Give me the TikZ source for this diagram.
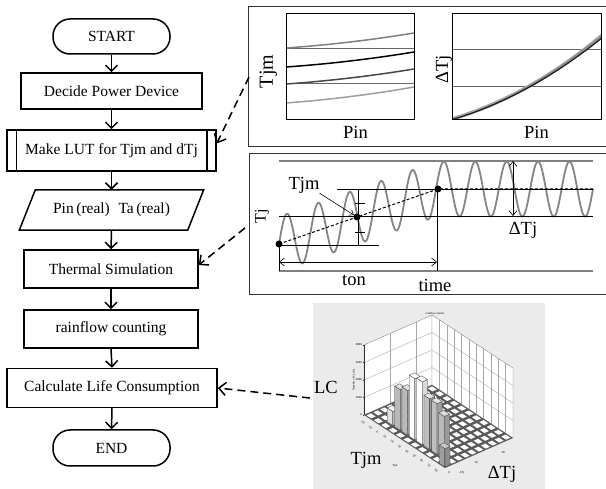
\documentclass[tikz,border=0pt]{standalone}
\usepackage{fontspec}
\setmainfont{Liberation Serif}
\newfontfamily\labelserif{Liberation Serif}
\usetikzlibrary{arrows.meta,calc}
\newcommand\flowfont{\labelserif\fontsize{15.5}{18}\selectfont}
\newcommand\lblfont{\labelserif\fontsize{18.5}{20}\selectfont}
\newcommand\tinyfont{\labelserif\fontsize{3}{3.5}\selectfont}
% one bar of the 3-D histogram: cell i, cell j, height, front, side and top colours
\newcommand\histbar[6]{%
  \pgfmathsetmacro\barua{#1+0.12}\pgfmathsetmacro\barub{#1+0.88}%
  \pgfmathsetmacro\barva{#2+0.12}\pgfmathsetmacro\barvb{#2+0.88}%
  \filldraw[fill=#4, draw=black!75, line width=0.3pt] (\barua,\barva,0) -- (\barub,\barva,0) -- (\barub,\barva,#3) -- (\barua,\barva,#3) -- cycle;
  \filldraw[fill=#5, draw=black!75, line width=0.3pt] (\barub,\barva,0) -- (\barub,\barvb,0) -- (\barub,\barvb,#3) -- (\barub,\barva,#3) -- cycle;
  \filldraw[fill=#6, draw=black!75, line width=0.3pt] (\barua,\barva,#3) -- (\barub,\barva,#3) -- (\barub,\barvb,#3) -- (\barua,\barvb,#3) -- cycle;
}
\begin{document}
\begin{tikzpicture}[x=1pt,y=-1pt,
  flowbox/.style={draw, line width=1.5pt, inner sep=0pt, font=\flowfont, align=center},
  terminal/.style={flowbox, rounded corners=17pt},
  flowarrow/.style={line width=1.5pt, -{Straight Barb[length=6pt,width=12pt]}},
  linkarrow/.style={line width=1.5pt, dash pattern=on 8pt off 5pt, -{Straight Barb[length=7pt,width=13pt]}},
  panelframe/.style={line width=1pt, draw=black!80},
  plotframe/.style={line width=0.8pt, draw=black},
  gridline/.style={line width=0.9pt, draw=black!60},
  lbl/.style={font=\lblfont, inner sep=0pt},
  tinylbl/.style={font=\tinyfont, inner sep=0pt},
  dot/.style={circle, fill=black, inner sep=0pt, minimum size=7pt},
  thinarrow/.style={line width=0.6pt, {Straight Barb[length=5pt,width=8pt]}-{Straight Barb[length=5pt,width=8pt]}},
  wave/.style={black!48, line width=1.8pt},
]
\useasboundingbox (0,0) rectangle (606,489);
\fill[white] (0,0) rectangle (606,489);

% ---------------- flow chart ----------------
\node[terminal, minimum width=117pt, minimum height=35pt] (start) at (111.5,36.5) {START};
\node[flowbox, minimum width=181pt, minimum height=36pt] (decide) at (111.5,91) {Decide Power Device};
\node[flowbox, minimum width=209pt, minimum height=41pt] (lut) at (111.5,150.5) {Make LUT for Tjm and dTj};
\draw[line width=1.5pt] ([xshift=10pt]lut.north west) -- ([xshift=10pt]lut.south west)
  ([xshift=-10pt]lut.north east) -- ([xshift=-10pt]lut.south east);
\node[inner sep=0pt, minimum width=184pt, minimum height=40pt, font=\flowfont] (pin) at (111.5,210) {Pin\,(real)\;\;Ta\,(real)};
\draw[line width=1.5pt] ([xshift=16pt]pin.north west) -- (pin.north east) -- ([xshift=-16pt]pin.south east) -- (pin.south west) -- cycle;
\node[flowbox, minimum width=174pt, minimum height=38pt] (therm) at (111,269) {Thermal Simulation};
\node[flowbox, minimum width=174pt, minimum height=38pt] (rain) at (111,329) {rainflow counting};
\node[flowbox, minimum width=210pt, minimum height=39pt] (calc) at (112,388) {Calculate Life Consumption};
\node[terminal, minimum width=117pt, minimum height=36pt] (end) at (111.5,448) {END};

\draw[flowarrow] (start.south) -- (decide.north);
\draw[flowarrow] (decide.south) -- (lut.north);
\draw[flowarrow] (lut.south) -- (pin.north);
\draw[flowarrow] (pin.south) -- (therm.north);
\draw[flowarrow] (therm.south) -- (rain.north);
\draw[flowarrow] (rain.south) -- (calc.north);
\draw[flowarrow] (calc.south) -- (end.north);

% ---------------- LUT panel ----------------
\draw[panelframe] (606,7) -- (248,7) -- (248,147) -- (606,147);
\coordinate (lutlink) at (249,77);
% Tjm versus Pin
\draw[gridline] (286,48) -- (414,48) (286,83) -- (414,83);
\draw[black!50, line width=1.5pt] plot[domain=0:1, variable=\t, samples=30] ({286+128*\t},{48-15*(0.6*\t+0.4*\t*\t)});
\draw[black, line width=1.5pt] plot[domain=0:1, variable=\t, samples=30] ({286+128*\t},{67-15*(0.6*\t+0.4*\t*\t)});
\draw[black!72, line width=1.5pt] plot[domain=0:1, variable=\t, samples=30] ({286+128*\t},{84-15*(0.6*\t+0.4*\t*\t)});
\draw[black!38, line width=1.5pt] plot[domain=0:1, variable=\t, samples=30] ({286+128*\t},{103-16*(0.6*\t+0.4*\t*\t)});
\draw[plotframe] (286,13) rectangle (414,119);
\node[lbl, font=\labelserif\fontsize{20}{22}\selectfont, rotate=90] at (268.5,71.5) {Tjm};
\node[lbl] at (355.5,132.5) {Pin};
% dTj versus Pin
\draw[gridline] (452,49) -- (601,49) (452,86) -- (601,86);
\begin{scope}
\clip (452,13) rectangle (601,119);
\draw[black!45, line width=3.4pt] plot[domain=0:1.02, variable=\t, samples=40] ({452+149*\t},{119-43.6*\t-38.4*\t*\t});
\draw[black!90, line width=1.1pt] plot[domain=0:1.02, variable=\t, samples=40] ({452+149*\t},{119.5-43*\t-37.8*\t*\t});
\draw[black!30, line width=0.6pt] plot[domain=0:1.02, variable=\t, samples=40] ({452+149*\t},{118.3-44.4*\t-39.8*\t*\t});
\end{scope}
\draw[plotframe] (452,13) rectangle (601,119);
\node[lbl, rotate=90] at (444,69.5) {ΔTj};
\node[lbl] at (536.5,132.5) {Pin};

% ---------------- simulation panel ----------------
\draw[panelframe] (606,154) -- (249,154) -- (249,295) -- (606,295);
\coordinate (simlink) at (245,228);
\draw[black!50, line width=1.6pt] (279,161) -- (593,161) (279,271) -- (593,271);
\draw[wave] plot[domain=0:314, samples=500, variable=\s] ({279+\s},{244-55*min(\s/158,1)-27.5*sin(\s*11.4650)});
\draw[black, line width=0.7pt] (279,216) -- (593,216) (337,189) -- (593,189) (279,245) -- (379,245)
  (437,189) -- (437,271) (358,189) -- (358,245) (279,244) -- (279,271)
  (355,203) -- (365,203) (355,232) -- (365,232);
\node[dot] (d1) at (279,244) {};
\node[dot] (d2) at (357,217) {};
\node[dot] (d3) at (438,189) {};
\coordinate (dend) at (593,189);
\draw[black, line width=1pt, dash pattern=on 3pt off 2pt] (d1.center) -- (d2.center) -- (d3.center) -- (dend);
\draw[thinarrow] (279,262) -- (437,262);
\draw[thinarrow] (513,161) -- (513,216);
\node[lbl] (tjmlbl) at (304,185) {Tjm};
\draw[line width=0.6pt, -{Straight Barb[length=4pt,width=6pt]}] (tjmlbl.south east) -- (d2);
\node[lbl] at (523,230) {ΔTj};
\node[lbl, font=\labelserif\fontsize{16}{18}\selectfont, rotate=90] at (262,216) {Tj};
\node[lbl] at (354,280) {ton};
\node[lbl] at (435,285) {time};

% ---------------- rainflow histogram ----------------
\fill[black!8] (313,303) rectangle (545,489);
\coordinate (hO) at (364,415);
\begin{scope}[shift={(hO)}, x={(7.36pt,-4.82pt)}, y={(6.8pt,3pt)}, z={(0pt,8.75pt)}]
  \filldraw[fill=white, draw=black!45, line width=0.4pt] (0,0,0) -- (0,10,0) -- (0,10,8) -- (0,0,8) -- cycle;
  \filldraw[fill=white, draw=black!45, line width=0.4pt] (0,10,0) -- (11,10,0) -- (11,10,8) -- (0,10,8) -- cycle;
  \foreach \k in {2,4,6} {\draw[black!35, line width=0.35pt] (0,0,\k) -- (0,10,\k) -- (11,10,\k);}
  \foreach \j in {3.9,7.7} {\draw[black!35, line width=0.35pt] (0,\j,0) -- (0,\j,8);}
  \foreach \i in {1,...,10} {\draw[black!35, line width=0.35pt] (\i,10,0) -- (\i,10,8);}
  \fill[black!65] (0,0,0) -- (11,0,0) -- (11,10,0) -- (0,10,0) -- cycle;
  \foreach \i in {0,...,10} {\foreach \j in {0,...,9} {
    \fill[white] (\i+0.18,\j+0.18,0) -- (\i+0.82,\j+0.18,0) -- (\i+0.82,\j+0.82,0) -- (\i+0.18,\j+0.82,0) -- cycle;}}
  \draw[black!80, line width=0.5pt] (0,0,0) -- (0,0,8);
  \foreach \k/\v in {0/0,2/2000,4/4000,6/6000,8/8000} {
    \draw[black!80, line width=0.4pt] (0,0,\k) -- ++(-1.5pt,0pt);
    \node[tinylbl, anchor=east] at ($(0,0,\k)+(-2pt,0pt)$) {\v};}
  \node[tinylbl, rotate=90] at ($(0,0,4)+(-10pt,0pt)$) {Number of Cycles};
  \foreach \i/\t in {0/-20,1/-10,2/0,3/10,4/20,5/30,6/40,7/50,8/60,9/70,10/80} {
    \node[tinylbl, rotate=-35] at ($(\i+0.5,0,0)+(-5pt,-5pt)$) {\t};}
  \histbar{2}{1}{1.6}{gray!25}{gray!50}{gray!10}
  \histbar{3}{1}{4.65}{gray!55}{gray!80}{gray!25}
  \histbar{4}{1}{5.1}{gray!55}{gray!80}{gray!25}
  \histbar{5}{1}{7.0}{white}{gray!30}{white}
  \histbar{6}{1}{7.2}{white}{gray!30}{white}
  \histbar{7}{1}{5.8}{gray!50}{gray!75}{gray!20}
  \histbar{8}{1}{5.8}{gray!50}{gray!75}{gray!20}
  \histbar{9}{1}{4.9}{gray!55}{gray!80}{gray!25}
  \histbar{10}{0}{2.1}{gray!75}{gray!90}{gray!45}
\end{scope}
\node[tinylbl] at (435,313) {rainflow matrix};
\node[tinylbl] at (449,473) {0};
\node[tinylbl] at (476,463) {20};
\node[tinylbl] at (503,453) {40};
\node[tinylbl] at (395,466) {Tjm};
\node[tinylbl] at (462,473) {ΔTj};
\node[lbl] (lc) at (326,387) {LC};
\node[lbl] at (366,460) {Tjm};
\node[lbl] at (502,474) {ΔTj};
\coordinate (lclink) at (310,398);

% ---------------- links to the panels ----------------
\draw[linkarrow] (lutlink) -- ([yshift=7pt]lut.east);
\draw[linkarrow] (simlink) -- ([yshift=4pt]therm.east);
\draw[linkarrow] (lclink) -- (calc.east);
\end{tikzpicture}
\end{document}
